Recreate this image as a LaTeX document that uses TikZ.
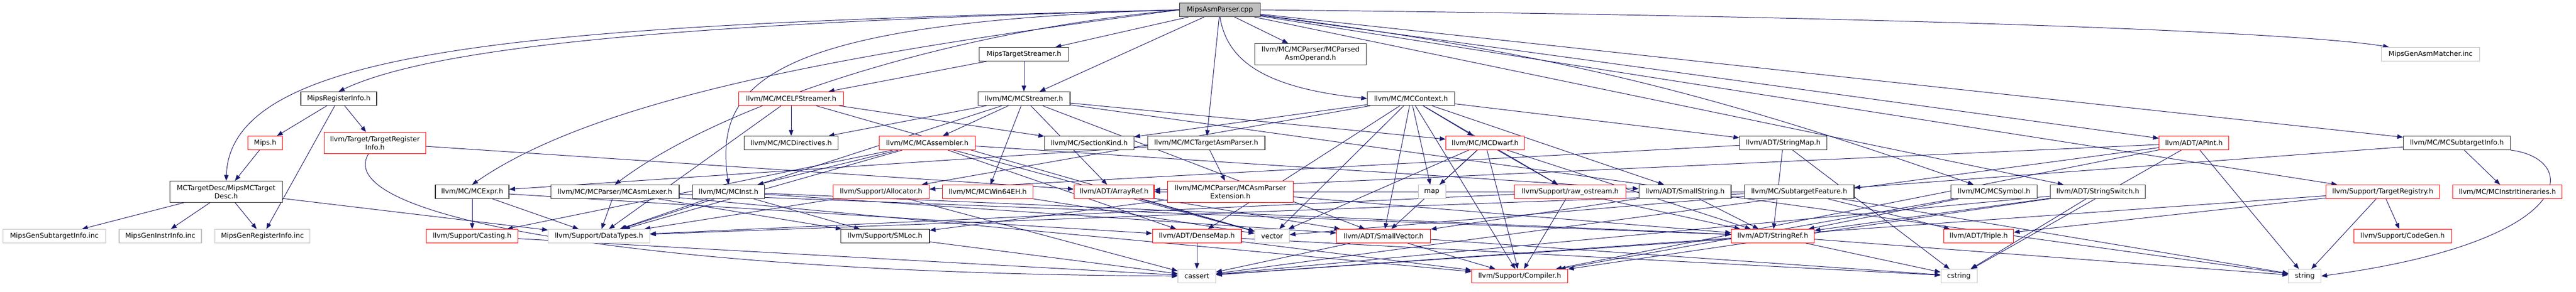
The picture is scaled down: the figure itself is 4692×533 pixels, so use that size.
\documentclass[tikz,border=0pt]{standalone}
\usepackage{fontspec}
\setmainfont{DejaVu Sans}
\usetikzlibrary{arrows.meta,backgrounds}
\definecolor{edgeblue}{HTML}{191970}
\definecolor{sysgray}{HTML}{BFBFBF}
\begin{document}
\begin{tikzpicture}[x=0.02cm, y=-0.02cm,
  hdr/.style={draw=black!80, fill=white, line width=0.6pt, minimum height=0.5cm,
    inner sep=0pt, align=center, font=\fontsize{7.1}{8.5}\selectfont},
  hdrred/.style={hdr, draw=red},
  hdrsys/.style={hdr, draw=sysgray},
  hdrroot/.style={hdr, fill=sysgray},
  twoline/.style={minimum height=0.78cm},
  inc/.style={draw=edgeblue, line width=0.55pt, -{Triangle[length=6pt,width=4.6pt]}}]
  \useasboundingbox (0,0) rectangle (4692,533);

  % row 0 and 1
  \node[hdrroot, minimum width=2.94cm] (root) at (2222,18) {MipsAsmParser.cpp};
  \node[hdr, minimum width=3.26cm] (tstream) at (1865,99) {MipsTargetStreamer.h};
  \node[hdr, twoline, minimum width=4.06cm] (parsedop) at (2387,99) {llvm/MC/MCParser/MCParsed\\AsmOperand.h};
  \node[hdrsys, minimum width=3.58cm] (asmmatcher) at (4427,99) {MipsGenAsmMatcher.inc};

  % row 2
  \node[hdr, minimum width=2.76cm] (reginfo) at (617,180) {MipsRegisterInfo.h};
  \node[hdrred, minimum width=3.82cm] (elfstr) at (1441,180) {llvm/MC/MCELFStreamer.h};
  \node[hdr, minimum width=3.36cm] (streamer) at (1865,180) {llvm/MC/MCStreamer.h};
  \node[hdr, minimum width=3.18cm] (context) at (2570,180) {llvm/MC/MCContext.h};

  % row 3
  \node[hdrred, minimum width=1.26cm] (mipsh) at (483,261) {Mips.h};
  \node[hdrred, twoline, minimum width=3.70cm] (tri) at (683,261) {llvm/Target/TargetRegister\\Info.h};
  \node[hdr, minimum width=3.42cm] (directives) at (1441,261) {llvm/MC/MCDirectives.h};
  \node[hdrred, minimum width=3.50cm] (assembler) at (1689,261) {llvm/MC/MCAssembler.h};
  \node[hdr, minimum width=3.26cm] (sectionkind) at (1984,261) {llvm/MC/SectionKind.h};
  \node[hdr, minimum width=4.28cm] (tasmparser) at (2197,261) {llvm/MC/MCTargetAsmParser.h};
  \node[hdrred, minimum width=2.86cm] (dwarf) at (2705,261) {llvm/MC/MCDwarf.h};
  \node[hdr, minimum width=3.18cm] (stringmap) at (3248,261) {llvm/ADT/StringMap.h};
  \node[hdrred, minimum width=2.54cm] (apint) at (3996,261) {llvm/ADT/APInt.h};
  \node[hdr, minimum width=3.90cm] (subtinfo) at (4475,261) {llvm/MC/MCSubtargetInfo.h};

  % row 4
  \node[hdr, twoline, minimum width=4.10cm] (mctdesc) at (412,350) {MCTargetDesc/MipsMCTarget\\Desc.h};
  \node[hdr, minimum width=2.68cm] (mcexpr) at (860,350) {llvm/MC/MCExpr.h};
  \node[hdr, minimum width=4.68cm] (asmlexer) at (1120,350) {llvm/MC/MCParser/MCAsmLexer.h};
  \node[hdr, minimum width=2.62cm] (mcinst) at (1327,350) {llvm/MC/MCInst.h};
  \node[hdrred, minimum width=3.50cm] (allocator) at (1605,350) {llvm/Support/Allocator.h};
  \node[hdrred, minimum width=3.30cm] (win64) at (1799,350) {llvm/MC/MCWin64EH.h};
  \node[hdrred, minimum width=2.92cm] (arrayref) at (2029,350) {llvm/ADT/ArrayRef.h};
  \node[hdrred, twoline, minimum width=4.58cm] (asmpext) at (2241,350) {llvm/MC/MCParser/MCAsmParser\\Extension.h};
  \node[hdrsys, minimum width=1.00cm] (map) at (2608,350) {map};
  \node[hdrred, minimum width=4.06cm] (rawos) at (2860,350) {llvm/Support/raw\_ostream.h};
  \node[hdr, minimum width=3.36cm] (smallstr) at (3069,350) {llvm/ADT/SmallString.h};
  \node[hdr, minimum width=4.00cm] (subtfeat) at (3277,350) {llvm/MC/SubtargetFeature.h};
  \node[hdr, minimum width=3.14cm] (mcsymbol) at (3632,350) {llvm/MC/MCSymbol.h};
  \node[hdr, minimum width=3.46cm] (strswitch) at (3821,350) {llvm/ADT/StringSwitch.h};
  \node[hdrred, minimum width=4.14cm] (tregistry) at (4340,350) {llvm/Support/TargetRegistry.h};
  \node[hdrred, minimum width=3.98cm] (itin) at (4567,350) {llvm/MC/MCInstrItineraries.h};

  % row 5
  \node[hdrsys, minimum width=3.74cm] (gensubt) at (99,431) {MipsGenSubtargetInfo.inc};
  \node[hdrsys, minimum width=3.00cm] (geninstr) at (292,431) {MipsGenInstrInfo.inc};
  \node[hdrsys, minimum width=3.46cm] (genreg) at (478,431) {MipsGenRegisterInfo.inc};
  \node[hdrred, minimum width=3.34cm] (casting) at (860,431) {llvm/Support/Casting.h};
  \node[hdrsys, minimum width=3.70cm] (datatypes) at (1091,431) {llvm/Support/DataTypes.h};
  \node[hdr, minimum width=3.24cm] (smloc) at (1612,431) {llvm/Support/SMLoc.h};
  \node[hdrred, minimum width=3.24cm] (densemap) at (2180,431) {llvm/ADT/DenseMap.h};
  \node[hdrsys, minimum width=1.26cm] (vector) at (2317,431) {vector};
  \node[hdrred, minimum width=3.42cm] (smallvec) at (2520,431) {llvm/ADT/SmallVector.h};
  \node[hdrred, minimum width=3.02cm] (stringref) at (3229,431) {llvm/ADT/StringRef.h};
  \node[hdrred, minimum width=2.54cm] (triple) at (3604,431) {llvm/ADT/Triple.h};
  \node[hdrred, minimum width=3.56cm] (codegen) at (4376,431) {llvm/Support/CodeGen.h};

  % row 6
  \node[hdrsys, minimum width=1.38cm] (cassert) at (2180,504) {cassert};
  \node[hdrred, minimum width=3.50cm] (compiler) at (2768,504) {llvm/Support/Compiler.h};
  \node[hdrsys, minimum width=1.32cm] (cstring) at (3568,504) {cstring};
  \node[hdrsys, minimum width=1.18cm] (string) at (4198,504) {string};

  \begin{scope}[on background layer]
  % includes of the parser source
  \draw[inc] (root) -- (tstream);
  \draw[inc] (root) -- (parsedop);
  \draw[inc] (root) -- (streamer);
  \draw[inc] (root) -- (tasmparser);
  \draw[inc] (root.south) .. controls (2235,110) and (2300,160) .. (context.west);
  \draw[inc] (root.east) .. controls (3500,30) and (4200,60) .. (asmmatcher);
  \draw[inc] (root) -- (subtinfo);
  \draw[inc] (root) -- (apint);
  \draw[inc] (root) -- (tregistry);
  \draw[inc] (root) -- (strswitch);
  \draw[inc] (root) to[bend left=6] (mcsymbol);
  \draw[inc] (root.west) .. controls (1000,45) and (420,80) .. (mctdesc.north);
  \draw[inc] (root.west) .. controls (1300,40) and (800,80) .. (reginfo.north);
  \draw[inc] (root.west) .. controls (1600,90) and (1100,170) .. (mcexpr.north);
  \draw[inc] (root.west) .. controls (1700,60) and (1300,200) .. (asmlexer.north);
  \draw[inc] (root.west) .. controls (1400,40) and (1300,150) .. (mcinst.north);

  % target headers
  \draw[inc] (tstream) -- (streamer);
  \draw[inc] (tstream) -- (elfstr);
  \draw[inc] (reginfo) -- (mipsh);
  \draw[inc] (reginfo) -- (genreg);
  \draw[inc] (reginfo) -- (tri);
  \draw[inc] (mipsh) -- (mctdesc);
  \draw[inc] (mctdesc) -- (gensubt);
  \draw[inc] (mctdesc) -- (geninstr);
  \draw[inc] (mctdesc) -- (genreg);
  \draw[inc] (mctdesc) -- (datatypes);
  \draw[inc] (tri) -- (arrayref);
  \draw[inc] (tri) .. controls (600,400) and (1200,500) .. (cassert);

  % MC layer
  \draw[inc] (elfstr) -- (directives);
  \draw[inc] (elfstr) -- (sectionkind);
  \draw[inc] (elfstr) -- (datatypes);
  \draw[inc] (elfstr) -- (vector);
  \draw[inc] (streamer) -- (assembler);
  \draw[inc] (streamer) -- (win64);
  \draw[inc] (streamer) -- (arrayref);
  \draw[inc] (streamer) -- (directives);
  \draw[inc] (streamer) -- (dwarf);
  \draw[inc] (streamer) -- (smallvec);
  \draw[inc] (streamer) -- (datatypes);
  \draw[inc] (streamer) -- (string);
  \draw[inc] (context) -- (dwarf);
  \draw[inc] (context) -- (map);
  \draw[inc] (context) -- (smallvec);
  \draw[inc] (context) -- (sectionkind);
  \draw[inc] (context) -- (allocator);
  \draw[inc] (context) -- (densemap);
  \draw[inc] (context) -- (vector);
  \draw[inc] (context) -- (rawos);
  \draw[inc] (context) -- (smallstr);
  \draw[inc] (context) -- (stringmap);
  \draw[inc] (context) -- (compiler);
  \draw[inc] (dwarf) -- (map);
  \draw[inc] (dwarf) -- (compiler);
  \draw[inc] (dwarf) -- (rawos);
  \draw[inc] (dwarf) -- (smallvec);
  \draw[inc] (dwarf) -- (stringref);
  \draw[inc] (dwarf) -- (vector);
  \draw[inc] (tasmparser) -- (asmpext);
  \draw[inc] (tasmparser) -- (mcexpr);
  \draw[inc] (asmpext) -- (stringref);
  \draw[inc] (asmpext) -- (smloc);
  \draw[inc] (mcexpr) -- (casting);
  \draw[inc] (mcexpr) -- (datatypes);
  \draw[inc] (mcexpr) -- (densemap);
  \draw[inc] (asmlexer) -- (datatypes);
  \draw[inc] (asmlexer) -- (stringref);
  \draw[inc] (asmlexer) -- (compiler);
  \draw[inc] (asmlexer) -- (smloc);
  \draw[inc] (mcinst) -- (smallvec);
  \draw[inc] (mcinst) -- (stringref);
  \draw[inc] (mcinst) -- (datatypes);
  \draw[inc] (mcinst) -- (smloc);
  \draw[inc] (assembler) -- (mcinst);
  \draw[inc] (assembler) -- (casting);
  \draw[inc] (assembler) -- (datatypes);
  \draw[inc] (assembler) -- (smallstr);
  \draw[inc] (assembler) -- (densemap);
  \draw[inc] (assembler) -- (vector);
  \draw[inc] (win64) -- (vector);
  \draw[inc] (subtinfo) -- (itin);
  \draw[inc] (subtinfo) -- (subtfeat);
  \draw[inc] (subtinfo.south east) .. controls (4700,290) and (4700,440) .. (string.east);
  \draw[inc] (subtfeat) -- (arrayref);
  \draw[inc] (subtfeat) -- (triple);
  \draw[inc] (subtfeat) -- (datatypes);
  \draw[inc] (subtfeat) -- (string);
  \draw[inc] (subtfeat) -- (vector);
  \draw[inc] (mcsymbol) -- (stringref);
  \draw[inc] (mcsymbol) -- (compiler);

  % support and ADT
  \draw[inc] (allocator) -- (datatypes);
  \draw[inc] (allocator) -- (cassert);
  \draw[inc] (arrayref) -- (smallvec);
  \draw[inc] (arrayref) -- (vector);
  \draw[inc] (rawos) -- (stringref);
  \draw[inc] (rawos) -- (compiler);
  \draw[inc] (rawos) -- (datatypes);
  \draw[inc] (smallstr) -- (smallvec);
  \draw[inc] (smallstr) -- (stringref);
  \draw[inc] (stringmap) -- (stringref);
  \draw[inc] (stringmap) -- (allocator);
  \draw[inc] (stringmap) -- (cstring);
  \draw[inc] (strswitch) -- (stringref);
  \draw[inc] (strswitch) -- (compiler);
  \draw[inc] (strswitch) -- (cassert);
  \draw[inc] (strswitch) -- (cstring);
  \draw[inc] (tregistry) -- (triple);
  \draw[inc] (tregistry) -- (codegen);
  \draw[inc] (tregistry) -- (cassert);
  \draw[inc] (tregistry) -- (string);
  \draw[inc] (apint) -- (arrayref);
  \draw[inc] (apint) -- (compiler);
  \draw[inc] (apint) -- (cassert);
  \draw[inc] (apint) -- (cstring);
  \draw[inc] (apint) -- (string);
  \draw[inc] (densemap) -- (cassert);
  \draw[inc] (densemap) -- (compiler);
  \draw[inc] (densemap) -- (cstring);
  \draw[inc] (smallvec) -- (compiler);
  \draw[inc] (smallvec) -- (cassert);
  \draw[inc] (smallvec) -- (cstring);
  \draw[inc] (stringref) -- (cassert);
  \draw[inc] (stringref) -- (cstring);
  \draw[inc] (stringref) -- (string);
  \draw[inc] (casting) -- (cassert);
  \draw[inc] (smloc) -- (cassert);
  \end{scope}
\end{tikzpicture}
\end{document}
